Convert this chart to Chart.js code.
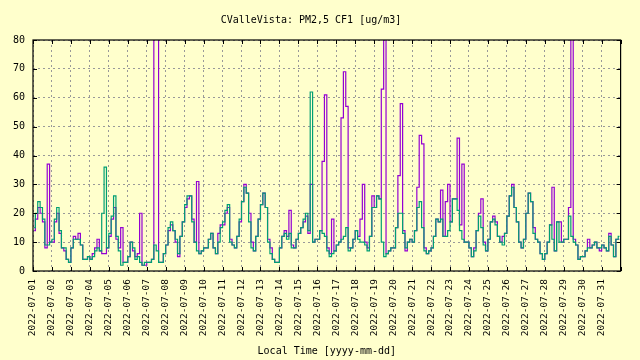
<!DOCTYPE html>
<html>
<head>
<meta charset="utf-8">
<script src="https://cdn.jsdelivr.net/npm/chart.js@4.4.1/dist/chart.umd.min.js"></script>
<style>
  html, body { margin: 0; padding: 0; background: #ffffcc; }
</style>
</head>
<body>
<canvas id="myChart" width="640" height="360"></canvas>
<script>
// tick labels, one per day
var dayLabels = ['2022-07-01','2022-07-02','2022-07-03','2022-07-04','2022-07-05','2022-07-06',
  '2022-07-07','2022-07-08','2022-07-09','2022-07-10','2022-07-11','2022-07-12','2022-07-13',
  '2022-07-14','2022-07-15','2022-07-16','2022-07-17','2022-07-18','2022-07-19','2022-07-20',
  '2022-07-21','2022-07-22','2022-07-23','2022-07-24','2022-07-25','2022-07-26','2022-07-27',
  '2022-07-28','2022-07-29','2022-07-30','2022-07-31'];
var slotsPerDay = 8; // 3 hourly readings

// channel A (purple), one row per day
var channelA = [
  14,18,22,20,17,8,37,10,
  10,17,20,13,8,7,4,3,
  8,12,11,13,9,4,4,5,
  4,6,8,11,7,6,6,8,
  12,18,22,11,8,15,3,3,
  5,10,7,5,6,20,2,2,
  3,3,4,85,85,3,3,6,
  9,14,16,14,10,5,12,17,
  22,25,26,18,10,31,6,7,
  8,8,11,13,8,6,13,16,
  16,20,22,11,9,8,12,17,
  24,30,27,20,10,7,12,18,
  23,27,22,11,8,4,3,3,
  8,12,14,12,21,9,8,11,
  13,15,17,19,13,30,10,11,
  11,14,38,61,8,6,18,7,
  9,10,53,69,57,8,8,11,
  14,12,18,30,10,8,12,26,
  22,26,25,63,85,6,7,8,
  8,15,33,58,14,7,10,11,
  10,14,29,47,44,8,6,7,
  8,12,18,17,28,12,24,30,
  17,25,25,46,16,37,10,10,
  8,5,8,14,20,25,10,7,
  11,17,19,17,12,10,12,13,
  19,26,30,22,17,10,8,11,
  20,27,24,15,11,10,6,4,
  6,10,16,29,7,17,17,10,
  11,11,22,85,11,9,4,5,
  5,7,11,8,9,10,8,7,
  9,8,7,13,9,5,11,11
];

// channel B (green)
var channelB = [
  15,20,24,22,18,9,9,10,
  11,18,22,14,8,8,4,3,
  8,11,11,11,9,4,4,5,
  4,5,7,8,7,20,36,8,
  13,19,26,12,7,2,3,3,
  5,10,8,4,5,3,2,3,
  3,3,4,9,7,3,3,6,
  9,15,17,14,11,6,12,17,
  23,26,26,17,10,7,6,7,
  8,8,11,13,8,6,10,15,
  17,21,23,10,9,8,12,18,
  24,29,27,17,8,7,12,18,
  23,27,22,10,6,4,3,3,
  8,12,13,11,13,8,8,11,
  13,15,18,20,14,62,10,11,
  11,14,13,12,7,5,6,7,
  9,10,11,12,15,7,8,11,
  14,11,10,10,9,7,12,22,
  22,26,25,10,5,6,7,8,
  8,15,20,20,13,8,10,11,
  10,14,22,24,15,7,6,7,
  8,12,18,17,18,12,12,14,
  17,25,25,21,14,11,10,10,
  8,5,7,14,19,15,9,7,
  11,17,18,16,12,10,9,13,
  19,26,29,22,17,10,8,11,
  20,27,24,13,11,10,6,4,
  6,10,16,11,7,17,10,10,
  11,11,19,12,10,9,4,5,
  5,7,8,8,9,10,8,8,
  9,8,7,12,9,5,11,12
];

function toPoints(arr) {
  return arr.map(function(v, i) {
    return { x: (i + 0.5) / slotsPerDay, y: v };
  });
}

var monoFont = { family: 'DejaVu Sans Mono', size: 10, weight: 'normal' };
var tickFont = { family: 'DejaVu Sans Mono', size: 9.5, weight: 'normal' };

// black frame + inward ticks like gnuplot
var framePlugin = {
  id: 'frame',
  afterDraw: function(chart) {
    var a = chart.chartArea, ctx = chart.ctx;
    var xs = chart.scales.x, ys = chart.scales.y;
    ctx.save();
    ctx.strokeStyle = '#000';
    ctx.lineWidth = 1;
    ctx.beginPath();
    xs.ticks.forEach(function(t) {
      var px = Math.round(xs.getPixelForValue(t.value)) + 0.5;
      ctx.moveTo(px, a.bottom); ctx.lineTo(px, a.bottom - 4);
      ctx.moveTo(px, a.top); ctx.lineTo(px, a.top + 4);
    });
    ys.ticks.forEach(function(t) {
      var py = Math.round(ys.getPixelForValue(t.value)) + 0.5;
      ctx.moveTo(a.left, py); ctx.lineTo(a.left + 4, py);
      ctx.moveTo(a.right, py); ctx.lineTo(a.right - 4, py);
    });
    ctx.stroke();
    ctx.lineWidth = 1.2;
    ctx.strokeRect(a.left, a.top, a.right - a.left, a.bottom - a.top);
    ctx.restore();
  }
};

var ctx = document.getElementById('myChart');
var myChart = new Chart(ctx, {
  type: 'line',
  data: {
    datasets: [
      {
        label: 'B',
        data: toPoints(channelB),
        borderColor: '#009e73',
        borderWidth: 1.2,
        stepped: 'middle',
        pointRadius: 0,
        fill: false,
        order: 0
      },
      {
        label: 'A',
        data: toPoints(channelA),
        borderColor: '#9400d3',
        borderWidth: 1.2,
        stepped: 'middle',
        pointRadius: 0,
        fill: false,
        order: 1
      }
    ]
  },
  options: {
    responsive: false,
    animation: false,
    layout: { padding: { left: 0, right: 18, top: 0, bottom: 0 } },
    plugins: {
      legend: { display: false },
      tooltip: { enabled: false },
      title: {
        display: true,
        text: 'CValleVista: PM2,5 CF1 [ug/m3]',
        font: monoFont,
        color: '#000',
        padding: { top: 14, bottom: 14 }
      }
    },
    scales: {
      x: {
        type: 'linear',
        min: 0,
        max: 31,
        afterFit: function(s) { s.height = 89; },
        ticks: {
          stepSize: 1,
          autoSkip: false,
          minRotation: 90,
          maxRotation: 90,
          padding: 8,
          font: tickFont,
          color: '#000',
          callback: function(v) { return dayLabels[v] || ''; }
        },
        grid: { color: '#999999', lineWidth: 1, drawTicks: false },
        border: { display: false, dash: [2, 3] },
        title: {
          display: true,
          text: 'Local Time [yyyy-mm-dd]',
          font: monoFont,
          color: '#000',
          padding: { top: 0, bottom: 3 }
        }
      },
      y: {
        min: 0,
        max: 80,
        afterFit: function(s) { s.width = 33; },
        ticks: { stepSize: 10, padding: 8, font: monoFont, color: '#000' },
        grid: { color: '#999999', lineWidth: 1, drawTicks: false },
        border: { display: false, dash: [2, 3] }
      }
    }
  },
  plugins: [framePlugin]
});
</script>
</body>
</html>
